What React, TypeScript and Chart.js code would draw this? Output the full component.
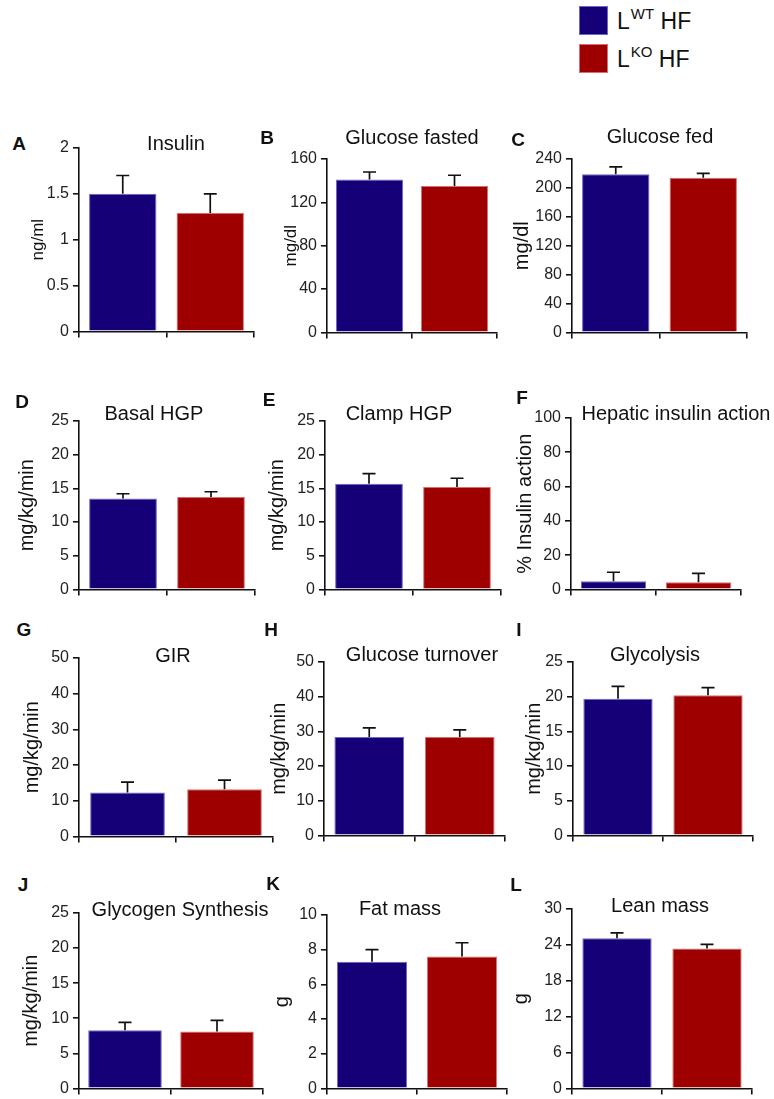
import React, { useEffect, useRef } from 'react';
import { Chart, registerables } from 'chart.js';

Chart.register(...registerables);

// ---------------- data ----------------
const groups = ['LWT HF', 'LKO HF'];
const panelLetters = ['A', 'B', 'C', 'D', 'E', 'F', 'G', 'H', 'I', 'J', 'K', 'L'];
const panelTitles = [
  'Insulin', 'Glucose fasted', 'Glucose fed', 'Basal HGP', 'Clamp HGP', 'Hepatic insulin action',
  'GIR', 'Glucose turnover', 'Glycolysis', 'Glycogen Synthesis', 'Fat mass', 'Lean mass',
];
const yAxisTitles = [
  'ng/ml', 'mg/dl', 'mg/dl', 'mg/kg/min', 'mg/kg/min', '% Insulin action',
  'mg/kg/min', 'mg/kg/min', 'mg/kg/min', 'mg/kg/min', 'g', 'g',
];
const wtMeans = [1.5, 141, 219, 13.5, 15.7, 4.8, 12.3, 28.4, 19.7, 8.3, 7.3, 25.1];
const wtErrors = [0.2, 7, 10, 0.7, 1.5, 5.2, 2.9, 2.6, 1.8, 1.1, 0.7, 0.9];
const koMeans = [1.29, 135, 214, 13.7, 15.2, 4.2, 13.2, 28.4, 20.2, 8.1, 7.6, 23.4];
const koErrors = [0.21, 10, 6, 0.8, 1.3, 5.1, 2.6, 2.0, 1.1, 1.6, 0.8, 0.7];
const yMaxima = [2, 160, 240, 25, 25, 100, 50, 50, 25, 25, 10, 30];
const yTickSteps = [0.5, 40, 40, 5, 5, 20, 10, 10, 5, 5, 2, 6];

// ---------------- layout & style ----------------
const FONT = '"Liberation Sans", Arial, Helvetica, sans-serif';
const BLUE = '#150078';
const BLUE_EDGE = '#6c68c4';
const RED = '#9e0000';
const RED_EDGE = '#d67070';
const INK = '#111111';

type PanelLayout = {
  axisX: number; top: number; bottom: number; right: number;
  yTitleX: number; yTitleSize: number;
  letterX: number; letterY: number;
  titleX: number; titleY: number; titleSize: number;
  barPct: number;
};

const panelLayout: PanelLayout[] = [
  { axisX: 79, top: 148, bottom: 333, right: 254, yTitleX: 38, yTitleSize: 17, letterX: 19, letterY: 143, titleX: 176, titleY: 143, titleSize: 20, barPct: 0.77 },
  { axisX: 327, top: 159, bottom: 334, right: 497, yTitleX: 291, yTitleSize: 17, letterX: 267, letterY: 137, titleX: 412, titleY: 137, titleSize: 20, barPct: 0.79 },
  { axisX: 572, top: 159, bottom: 334, right: 747, yTitleX: 522, yTitleSize: 20, letterX: 518, letterY: 139, titleX: 660, titleY: 136, titleSize: 20, barPct: 0.77 },
  { axisX: 79, top: 421, bottom: 591, right: 255, yTitleX: 27, yTitleSize: 20, letterX: 22, letterY: 401, titleX: 154, titleY: 413, titleSize: 20, barPct: 0.77 },
  { axisX: 325, top: 421, bottom: 591, right: 501, yTitleX: 277, yTitleSize: 20, letterX: 269, letterY: 399, titleX: 399, titleY: 413, titleSize: 20, barPct: 0.77 },
  { axisX: 571, top: 418, bottom: 591, right: 741, yTitleX: 525, yTitleSize: 20, letterX: 522, letterY: 397, titleX: 676, titleY: 413, titleSize: 20, barPct: 0.77 },
  { axisX: 79, top: 658, bottom: 838, right: 273, yTitleX: 32, yTitleSize: 20, letterX: 24, letterY: 629, titleX: 173, titleY: 655, titleSize: 20, barPct: 0.77 },
  { axisX: 324, top: 662, bottom: 837, right: 505, yTitleX: 279, yTitleSize: 20, letterX: 271, letterY: 629, titleX: 422, titleY: 654, titleSize: 20, barPct: 0.77 },
  { axisX: 573, top: 662, bottom: 837, right: 753, yTitleX: 534, yTitleSize: 20, letterX: 519, letterY: 629, titleX: 655, titleY: 654, titleSize: 20, barPct: 0.77 },
  { axisX: 79, top: 913, bottom: 1090, right: 263, yTitleX: 31, yTitleSize: 20, letterX: 23, letterY: 884, titleX: 180, titleY: 909, titleSize: 20, barPct: 0.8 },
  { axisX: 327, top: 915, bottom: 1090, right: 507, yTitleX: 282, yTitleSize: 20, letterX: 273, letterY: 883, titleX: 400, titleY: 908, titleSize: 20, barPct: 0.78 },
  { axisX: 572, top: 909, bottom: 1090, right: 752, yTitleX: 521, yTitleSize: 20, letterX: 516, letterY: 884, titleX: 660, titleY: 905, titleSize: 20, barPct: 0.77 },
];

const errorBarPlugin = {
  id: 'errorBars',
  afterDatasetsDraw(chart: any) {
    const { ctx } = chart;
    const yScale = chart.scales.y;
    chart.data.datasets.forEach((ds: any, di: number) => {
      const meta = chart.getDatasetMeta(di);
      meta.data.forEach((el: any, j: number) => {
        const v = ds.data[j];
        const e = ds.errors[j];
        const yTop = yScale.getPixelForValue(v + e);
        const yBar = yScale.getPixelForValue(v);
        ctx.save();
        ctx.strokeStyle = INK;
        ctx.lineWidth = 1.7;
        ctx.beginPath();
        ctx.moveTo(el.x, yBar);
        ctx.lineTo(el.x, yTop);
        ctx.moveTo(el.x - 6.5, yTop);
        ctx.lineTo(el.x + 6.5, yTop);
        ctx.stroke();
        ctx.restore();
      });
    });
  },
};

function Panel({ index }: { index: number }) {
  const ref = useRef<HTMLCanvasElement>(null);
  const L = panelLayout[index];
  const lineH = L.yTitleSize * 1.2;
  const canvasLeft = Math.round(L.yTitleX - lineH / 2);
  const yW = L.axisX - canvasLeft;
  const padTop = 14;
  const padRight = 8;
  const xH = 12;
  const width = yW + (L.right - L.axisX) + padRight;
  const height = padTop + (L.bottom - L.top) + xH;

  useEffect(() => {
    if (!ref.current) return;
    const chart = new Chart(ref.current, {
      type: 'bar',
      data: {
        labels: groups,
        datasets: [
          {
            data: [wtMeans[index], koMeans[index]],
            errors: [wtErrors[index], koErrors[index]],
            backgroundColor: [BLUE, RED],
            borderColor: [BLUE_EDGE, RED_EDGE],
            borderWidth: 1,
            barPercentage: L.barPct,
            categoryPercentage: 1,
          } as any,
        ],
      },
      options: {
        responsive: false,
        animation: false,
        layout: { padding: { top: padTop, right: padRight, left: 0, bottom: 0 } },
        plugins: {
          legend: { display: false },
          tooltip: { enabled: false },
          title: { display: false },
        },
        scales: {
          x: {
            offset: true,
            grid: {
              display: true,
              offset: true,
              drawOnChartArea: false,
              drawTicks: true,
              tickLength: 6,
              color: INK,
              lineWidth: 1.6,
            },
            border: { display: true, color: INK, width: 1.6 },
            ticks: { display: false },
            afterFit: (s: any) => {
              s.height = xH;
            },
          },
          y: {
            min: 0,
            max: yMaxima[index],
            ticks: {
              stepSize: yTickSteps[index],
              font: { size: 16, family: FONT },
              color: '#222',
              padding: 4,
              callback: (v: any) => String(v),
            },
            grid: {
              drawOnChartArea: false,
              drawTicks: true,
              tickLength: 6,
              color: INK,
              lineWidth: 1.6,
            },
            border: { display: true, color: INK, width: 1.6 },
            title: {
              display: true,
              text: yAxisTitles[index],
              font: { size: L.yTitleSize, family: FONT },
              color: '#111',
              padding: 0,
            },
            afterFit: (s: any) => {
              s.width = yW;
            },
          },
        },
      } as any,
      plugins: [errorBarPlugin],
    });
    return () => chart.destroy();
  }, [index]);

  return (
    <canvas
      ref={ref}
      width={width}
      height={height}
      style={{ position: 'absolute', left: canvasLeft, top: L.top - padTop, width, height }}
    />
  );
}

function TextAt({ x, y, size, bold, children }: any) {
  return (
    <div
      style={{
        position: 'absolute',
        left: x,
        top: y - size * 0.49,
        transform: 'translateX(-50%)',
        fontSize: size,
        lineHeight: 1,
        fontWeight: bold ? 'bold' : 'normal',
        whiteSpace: 'nowrap',
        color: '#111',
      }}
    >
      {children}
    </div>
  );
}

function LegendRow({ top, color, edge, sup }: any) {
  return (
    <>
      <div
        style={{
          position: 'absolute',
          left: 579,
          top,
          width: 29,
          height: 29,
          background: color,
          border: `1px solid ${edge}`,
          boxSizing: 'border-box',
        }}
      />
      <div
        style={{
          position: 'absolute',
          left: 617,
          top: top + 4,
          fontSize: 23,
          lineHeight: 1,
          whiteSpace: 'nowrap',
          color: '#111',
        }}
      >
        L
        <span style={{ fontSize: 15, position: 'relative', top: -10, marginLeft: 1 }}>{sup}</span> HF
      </div>
    </>
  );
}

export default function App() {
  useEffect(() => {
    Chart.defaults.font.family = FONT;
  }, []);
  return (
    <div
      style={{
        position: 'absolute',
        left: 0,
        top: 0,
        width: 774,
        height: 1099,
        background: '#fff',
        fontFamily: FONT,
        overflow: 'hidden',
      }}
    >
      <LegendRow top={6} color={BLUE} edge={BLUE_EDGE} sup="WT" />
      <LegendRow top={44} color={RED} edge={RED_EDGE} sup="KO" />
      {panelLayout.map((L, i) => (
        <React.Fragment key={i}>
          <Panel index={i} />
          <TextAt x={L.letterX} y={L.letterY} size={19} bold>
            {panelLetters[i]}
          </TextAt>
          <TextAt x={L.titleX} y={L.titleY} size={L.titleSize}>
            {panelTitles[i]}
          </TextAt>
        </React.Fragment>
      ))}
    </div>
  );
}
